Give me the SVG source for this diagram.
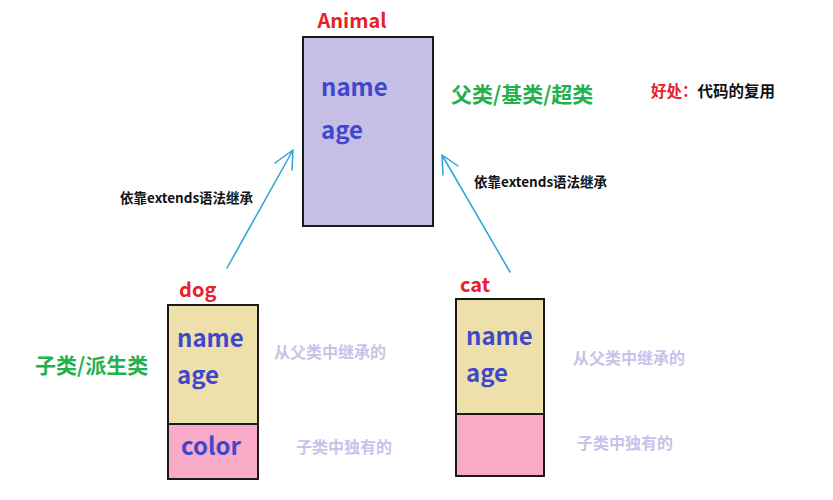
<svg xmlns="http://www.w3.org/2000/svg" width="833" height="500" viewBox="0 0 833 500">
<style>
.t{font-family:"Noto Sans CJK SC","Liberation Sans",sans-serif;font-weight:bold}
.title{fill:#e8202a;font-size:20px}
.field{fill:#3f48cc;font-size:24px}
.green{fill:#22b14c;font-size:21px}
.note{fill:#c8c3e8;font-size:16px}
.small{fill:#111;font-size:13.5px}
.box{stroke:#1a1a1a;stroke-width:2}
.arr{fill:none;stroke:#2aa3d8;stroke-width:1.5;stroke-linecap:round;stroke-linejoin:round}
</style>
<rect width="833" height="500" fill="#fff"/>
<g id="animal">
<rect class="box" x="303" y="37" width="130" height="189" fill="#c5bfe6"/>
<text class="t title" x="352" y="28" text-anchor="middle">Animal</text>
<text class="t field" x="321" y="96">name</text>
<text class="t field" x="321" y="139">age</text>
</g>
<g id="dog">
<rect class="box" x="168" y="305" width="90" height="119" fill="#eee0ab"/>
<rect class="box" x="168" y="424" width="90" height="55" fill="#f9aac6"/>
<text class="t title" x="179" y="297">dog</text>
<text class="t field" x="177" y="347">name</text>
<text class="t field" x="177" y="384">age</text>
<text class="t field" x="181" y="455">color</text>
</g>
<g id="cat">
<rect class="box" x="456" y="299" width="88" height="115" fill="#eee0ab"/>
<rect class="box" x="456" y="414" width="88" height="62" fill="#f9aac6"/>
<text class="t title" x="460" y="292">cat</text>
<text class="t field" x="466" y="345">name</text>
<text class="t field" x="466" y="382">age</text>
</g>
<g id="labels">
<text class="t green" x="451" y="102">父类/基类/超类</text>
<text class="t green" x="35" y="373">子类/派生类</text>
<text class="t" x="651" y="97" font-size="15.5" fill="#e8202a">好处：<tspan fill="#111">代码的复用</tspan></text>
<text class="t note" x="274" y="358">从父类中继承的</text>
<text class="t note" x="573" y="364">从父类中继承的</text>
<text class="t note" x="296" y="453">子类中独有的</text>
<text class="t note" x="577" y="449">子类中独有的</text>
<text class="t small" x="120" y="203">依靠extends语法继承</text>
<text class="t small" x="474" y="187">依靠extends语法继承</text>
</g>
<g id="connectors">
<path class="arr" d="M227 268 L293 150 M275 163 L293 150 L292 170"/>
<path class="arr" d="M510 272 L442 155 M443 175 L442 155 L458 166"/>
</g>
</svg>
